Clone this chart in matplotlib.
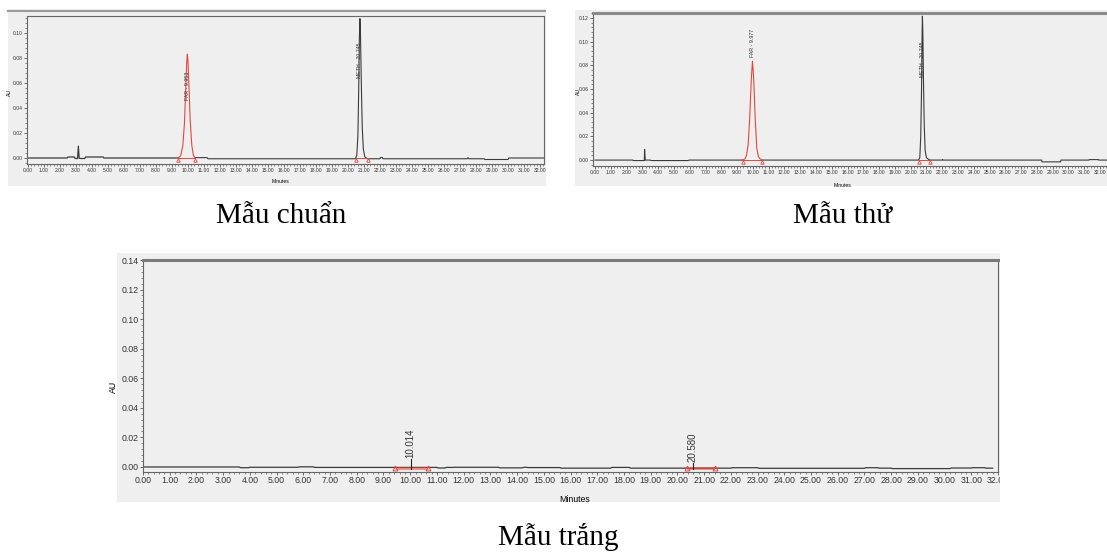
import numpy as np
import matplotlib
matplotlib.use('Agg')
import matplotlib.pyplot as plt
from matplotlib.patches import Rectangle
from matplotlib.lines import Line2D
from matplotlib.ticker import MultipleLocator

# ---- Mẫu chuẩn (standard) ----
std_pre_x = [0, 2.45, 2.5, 2.9, 2.95, 3.1, 3.15, 3.2, 3.3, 3.55, 3.6, 4.7, 4.75, 9.4]
std_pre_y = [0, 0, 0.0008, 0.0008, -0.0004, -0.0004, 0.0095, -0.0002, -0.0004, -0.0004, 0.0008, 0.0008, 0.0, 0.0]
std_far_x = [9.4, 9.55, 9.68, 9.78, 9.86, 9.92, 9.96, 10.0, 10.06, 10.14, 10.24, 10.34, 10.45]
std_far_y = [0.0, 0.002, 0.01, 0.028, 0.055, 0.076, 0.083, 0.078, 0.058, 0.03, 0.01, 0.002, 0.0003]
std_post_x = [10.45, 11.2, 11.25, 20.45, 20.55, 20.62, 20.67, 20.71, 20.745, 20.78, 20.83, 20.89,
              20.96, 21.05, 21.2, 22.0, 22.03, 22.15, 22.18, 27.45, 27.5, 27.55, 28.5, 28.55,
              30.0, 30.05, 32.3]
std_post_y = [0.0003, 0.0003, -0.0006, -0.0006, 0.002, 0.018, 0.055, 0.095, 0.1115, 0.1, 0.062, 0.025,
              0.007, 0.001, -0.0006, -0.0006, 0.0004, 0.0004, -0.0006, -0.0006, 0.0003, -0.0006, -0.0006, -0.0012,
              -0.0012, 0.0, 0.0]
std_marks = [(9.4, 10.45), (20.5, 21.22)]
std_labels = ['FAR - 9.953', 'METH - 20.745']
std_label_x = [9.96, 20.745]
std_label_y = [0.046, 0.064]

# ---- Mẫu thử (sample) ----
tst_pre_x = [0, 2.4, 2.42, 3.12, 3.14, 3.18, 3.5, 3.55, 5.9, 5.95, 9.35]
tst_pre_y = [0, 0, -0.0004, -0.0004, 0.009, 0.0, 0.0, -0.0004, -0.0004, 0.0, 0.0]
tst_far_x = [9.35, 9.5, 9.6, 9.7, 9.8, 9.9, 9.977, 10.05, 10.15, 10.25, 10.35, 10.45, 10.6]
tst_far_y = [0.0, 0.001, 0.004, 0.013, 0.035, 0.068, 0.0835, 0.07, 0.035, 0.01, 0.003, 0.001, 0.0]
tst_post_x = [10.6, 20.5, 20.58, 20.64, 20.69, 20.72, 20.745, 20.77, 20.81, 20.86, 20.92, 21.0, 21.15,
              21.25, 22.0, 22.02, 22.06, 28.3, 28.32, 29.5, 29.52, 31.3, 31.32, 31.9, 31.92, 32.8]
tst_post_y = [0, 0, 0.002, 0.02, 0.06, 0.1, 0.1215, 0.11, 0.07, 0.03, 0.008, 0.002, 0.0005,
              0, 0, 0.0005, 0, 0, -0.0015, -0.0015, 0, 0, 0.0004, 0.0004, 0, 0]
tst_marks = [(9.35, 10.6), (20.5, 21.25)]
tst_labels = ['FAR - 9.977', 'METH - 20.745']
tst_label_x = [9.977, 20.745]
tst_label_y = [0.087, 0.070]

# ---- Mẫu trắng (blank) ----
blk_x = [0, 3.6, 3.65, 3.95, 4.0, 5.8, 5.85, 6.35, 6.45, 9.4, 11.0, 11.05, 11.3, 11.35, 11.6, 11.65,
         13.3, 13.35, 14.2, 14.25, 14.35, 14.4, 15.6, 15.65, 17.5, 17.55, 18.2, 18.25, 21.45,
         22.0, 22.05, 23.0, 23.05, 27.0, 27.05, 27.5, 27.55, 28.0, 28.05, 30.2, 30.25, 31.0,
         31.05, 31.5, 31.55, 31.8]
blk_y = [0, 0, -0.0005, -0.0005, -0.0002, -0.0002, 0.0001, 0.0001, -0.0003, -0.0003, -0.0003, -0.0007, -0.0007, -0.0003, -0.0003, -0.0002,
         -0.0002, -0.0006, -0.0006, -0.0002, -0.0002, -0.0004, -0.0004, -0.0008, -0.0008, -0.0003, -0.0003, -0.0008, -0.0008,
         -0.0008, -0.0005, -0.0005, -0.0009, -0.0009, -0.0005, -0.0005, -0.0008, -0.0008, -0.0011, -0.0011, -0.0007, -0.0007,
         -0.0005, -0.0005, -0.0008, -0.0008]
blk_marks = [(9.45, 10.65), (20.35, 21.4)]
blk_labels = ['10.014', '20.580']
blk_label_x = [10.014, 20.58]
blk_label_y = [0.006, 0.0035]

captions = ['Mẫu chuẩn', 'Mẫu thử', 'Mẫu trắng']

W, H = 1107, 554
plt.rcParams['font.family'] = ['Liberation Sans', 'DejaVu Sans']
fig = plt.figure(figsize=(W / 100, H / 100), dpi=100)
BG = '#efefef'
RED = '#e8463c'
TRACE = '#3a3a3a'


def frect(x0, y0, x1, y1):
    return [x0 / W, 1 - y1 / H, (x1 - x0) / W, (y1 - y0) / H]


def panel_bg(x0, y0, x1, y1):
    fig.add_artist(Rectangle((x0 / W, 1 - y1 / H), (x1 - x0) / W, (y1 - y0) / H,
                             transform=fig.transFigure, facecolor=BG, edgecolor='none', zorder=-1))


def chrom(box, xlim, ylim, ystep, fs, au_pos, min_pos):
    ax = fig.add_axes(frect(*box))
    ax.set_facecolor(BG)
    ax.set_xlim(xlim)
    ax.set_ylim(ylim)
    ax.set_xticks(np.arange(0, 33))
    ax.set_xticklabels([f'{v:.2f}' for v in range(33)])
    ax.xaxis.set_minor_locator(MultipleLocator(0.2))
    yt = np.arange(0, ylim[1] + 1e-9, ystep)
    ax.set_yticks(yt)
    ax.set_yticklabels([f'{v:.2f}' for v in yt])
    ax.yaxis.set_minor_locator(MultipleLocator(ystep / 5))
    ax.tick_params(which='major', length=2.2, width=0.5, labelsize=fs, pad=1, colors='#333333')
    ax.tick_params(which='minor', length=1.3, width=0.4, colors='#333333')
    for s in ax.spines.values():
        s.set_color('#666666')
        s.set_linewidth(0.8)
    ax.set_ylabel('AU', fontsize=fs)
    ax.yaxis.set_label_coords(*au_pos)
    ax.set_xlabel('Minutes', fontsize=fs)
    ax.xaxis.set_label_coords(*min_pos)
    return ax


def marks(ax, pairs, y_line, y_tri, ms):
    for a, b in pairs:
        ax.plot([a, b], [y_line, y_line], color=RED, lw=0.7)
        ax.plot([a, b], [y_tri, y_tri], ls='none', marker='^', ms=ms, mfc='none', mec=RED, mew=0.6)


# ---------- panel 1 ----------
panel_bg(8, 9, 546, 186)
fig.add_artist(Line2D([8 / W, 546 / W], [1 - 11 / H, 1 - 11 / H], transform=fig.transFigure,
                      color='#9a9a9a', lw=1.5))
ax1 = chrom((27, 16, 544, 164), (-0.06, 32.25), (-0.0048, 0.1136), 0.02, 3.6,
            (-0.029, 0.48), (0.49, -0.10))
ax1.plot(std_pre_x, std_pre_y, color=TRACE, lw=0.9)
ax1.plot(std_post_x, std_post_y, color=TRACE, lw=0.8)
ax1.plot(std_far_x, std_far_y, color=RED, lw=0.8)
marks(ax1, std_marks, 0.0003, -0.0018, 2.5)
for t, x, y in zip(std_labels, std_label_x, std_label_y):
    ax1.text(x, y, t, rotation=90, ha='center', va='bottom', fontsize=3.8, color='#333333')

# ---------- panel 2 ----------
panel_bg(575, 10, 1107, 186)
ax2 = chrom((593, 13, 1112, 166), (-0.13, 32.76), (-0.005, 0.1242), 0.02, 3.6,
            (-0.024, 0.49), (0.48, -0.11))
ax2.spines['top'].set_linewidth(2.2)
ax2.spines['top'].set_color('#8a8a8a')
ax2.plot(tst_pre_x, tst_pre_y, color=TRACE, lw=0.8)
ax2.plot(tst_post_x, tst_post_y, color=TRACE, lw=0.8)
ax2.plot(tst_far_x, tst_far_y, color=RED, lw=0.8)
marks(ax2, tst_marks, 0.0003, -0.0018, 2.5)
for t, x, y in zip(tst_labels, tst_label_x, tst_label_y):
    ax2.text(x, y, t, rotation=90, ha='center', va='bottom', fontsize=3.8, color='#333333')

# ---------- panel 3 ----------
panel_bg(117, 253, 1000, 502)
ax3 = chrom((143, 260, 998, 472), (0, 31.8), (-0.0034, 0.14), 0.02, 6.3,
            (-0.029, 0.40), (0.505, -0.11))
ax3.spines['top'].set_linewidth(2.2)
ax3.spines['top'].set_color('#7a7a7a')
ax3.plot(blk_x, blk_y, color=TRACE, lw=0.9)
for a, b in blk_marks:
    ax3.plot([a, b], [-0.0006, -0.0006], color=RED, lw=2.2, alpha=0.55, solid_capstyle='butt')
    ax3.plot([a, b], [-0.0009, -0.0009], ls='none', marker='^', ms=3.5, mfc='none', mec=RED, mew=0.7)
for t, x, y in zip(blk_labels, blk_label_x, blk_label_y):
    ax3.plot([x, x], [-0.0015, y - 0.0008], color='#222222', lw=0.8)
    ax3.text(x, y, t, rotation=90, ha='center', va='bottom', fontsize=7, color='#333333')

# hide tick labels that run past the edge of each screenshot
fig.add_artist(Rectangle((546 / W, 0.6), 29 / W, 0.4, transform=fig.transFigure,
                         facecolor='white', edgecolor='none', zorder=10))
fig.add_artist(Rectangle((1000 / W, 0.05), 107 / W, 0.5, transform=fig.transFigure,
                         facecolor='white', edgecolor='none', zorder=10))

# captions
cap_font = dict(family='Liberation Serif', fontsize=21, ha='center', va='center', color='black')
fig.text(281 / W, 1 - 216 / H, captions[0], **cap_font)
fig.text(843 / W, 1 - 216 / H, captions[1], **cap_font)
fig.text(558 / W, 1 - 537 / H, captions[2], **cap_font)

fig.savefig('out.png', dpi=100)
